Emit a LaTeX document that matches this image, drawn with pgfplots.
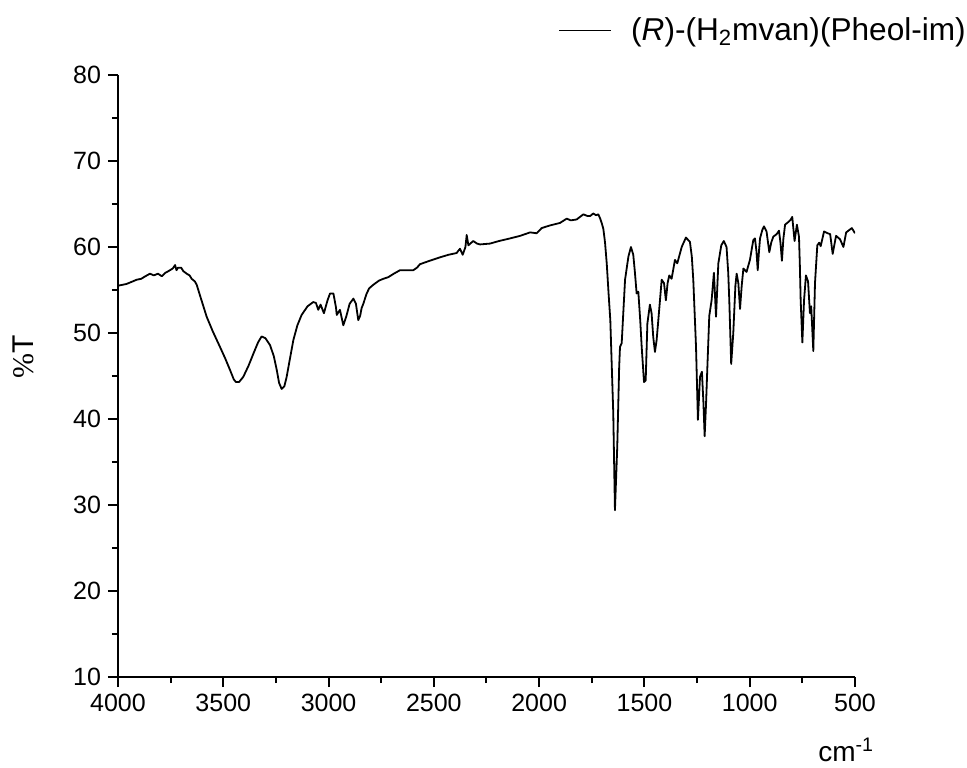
\documentclass[border=0pt]{standalone}
\usepackage{fontspec}
\setmainfont{Liberation Sans}
\newfontfamily\seriffont{Liberation Serif}
\usepackage{pgfplots}
\pgfplotsset{compat=1.18}
\pgfplotstableread{
x y
4000 55.5
3960 55.7
3930 56.0
3911 56.2
3890 56.3
3870 56.6
3848 56.9
3830 56.7
3810 56.9
3792 56.6
3775 57.0
3760 57.2
3740 57.5
3729 57.9
3722 57.3
3715 57.6
3700 57.6
3690 57.2
3674 56.9
3660 56.7
3650 56.3
3635 56.0
3626 55.6
3611 54.4
3579 51.9
3550 50.2
3516 48.4
3490 47.0
3468 45.7
3450 44.6
3440 44.3
3425 44.3
3405 44.9
3380 46.2
3357 47.6
3335 48.9
3318 49.6
3300 49.4
3278 48.6
3260 47.3
3246 45.7
3235 44.2
3223 43.5
3210 43.8
3199 44.9
3185 46.8
3167 49.2
3148 50.9
3128 52.1
3100 53.1
3073 53.6
3060 53.5
3049 52.7
3038 53.3
3022 52.3
3005 53.8
2993 54.6
2977 54.6
2965 53.0
2961 52.1
2946 52.7
2930 50.9
2915 52.0
2900 53.4
2882 54.0
2870 53.4
2859 51.5
2850 52.0
2843 52.9
2835 53.4
2819 54.6
2807 55.2
2788 55.6
2760 56.1
2740 56.3
2716 56.5
2690 56.9
2661 57.3
2630 57.3
2598 57.3
2580 57.6
2566 58.0
2520 58.4
2471 58.8
2430 59.1
2392 59.3
2376 59.8
2363 59.1
2350 60.0
2344 61.4
2336 60.2
2313 60.7
2295 60.4
2281 60.3
2233 60.4
2190 60.7
2138 61.0
2090 61.3
2043 61.7
2012 61.6
1988 62.2
1950 62.5
1901 62.8
1869 63.3
1850 63.1
1822 63.2
1790 63.8
1770 63.6
1758 63.6
1743 63.9
1730 63.7
1719 63.8
1710 63.3
1703 62.8
1695 62.1
1687 60.5
1679 58.1
1670 54.5
1662 51.5
1648 40.7
1640 29.4
1629 36.8
1620 46.0
1616 48.4
1608 48.8
1600 52.5
1592 56.2
1576 58.9
1564 60.0
1553 59.1
1545 57.0
1537 54.6
1529 54.8
1520 51.5
1513 48.4
1502 44.3
1494 44.5
1486 51.1
1474 53.3
1466 52.3
1458 49.5
1450 47.8
1442 49.2
1434 51.5
1418 56.2
1407 55.8
1398 53.8
1390 55.8
1382 56.7
1371 56.3
1355 58.5
1344 58.1
1323 60.0
1303 61.1
1284 60.6
1275 58.9
1268 56.2
1255 48.4
1246 39.9
1236 44.9
1227 45.5
1220 42.0
1214 38.0
1207 42.0
1201 46.1
1192 52.0
1181 53.8
1170 57.0
1160 51.9
1149 58.1
1135 60.2
1123 60.7
1110 60.0
1102 57.0
1097 53.8
1088 46.4
1078 50.0
1068 55.5
1062 56.9
1054 55.8
1046 52.8
1038 55.5
1030 57.5
1015 57.1
999 58.5
990 59.8
983 60.8
975 61.0
968 59.5
962 57.3
956 59.5
951 61.0
940 62.0
932 62.4
920 61.8
907 59.4
898 60.5
888 61.2
872 61.5
861 61.9
854 60.5
847 58.4
840 61.0
832 62.6
817 62.9
805 63.2
798 63.5
787 60.7
776 62.6
766 61.2
762 58.0
758 53.8
750 48.9
742 53.8
733 56.7
723 56.0
714 52.3
708 53.1
698 47.9
690 55.8
679 60.2
670 60.5
663 60.1
647 61.8
630 61.6
618 61.5
606 59.2
590 61.3
571 60.9
555 60.0
542 61.7
515 62.2
500 61.6
}\spectrum
\begin{document}
\begin{tikzpicture}
\path[use as bounding box] (-59pt,-45pt) rectangle (424.5pt,338.5pt);
\begin{axis}[
  at={(0,0)}, anchor=south west,
  scale only axis, width=368.5pt, height=301pt,
  x dir=reverse, xmin=500, xmax=4000, ymin=10, ymax=80,
  axis x line*=bottom, axis y line*=left,
  x axis line style={-}, y axis line style={-},
  axis line style={line width=1pt},
  xtick={500,1000,...,4000}, ytick={10,20,...,80},
  minor x tick num=1, minor y tick num=1,
  tick align=outside,
  major tick length=5pt, minor tick length=3pt,
  tick style={line width=1pt, black},
  ticklabel style={font=\fontsize{12.5}{14}\selectfont},
  /pgf/number format/assume math mode=true,
  /pgf/number format/1000 sep={},
  xlabel={cm\textsuperscript{-1}},
  xlabel style={at={(rel axis cs:0.988,-0.141)}, anchor=base, font=\fontsize{14}{16}\selectfont},
  ylabel={{\seriffont\%}T},
  ylabel style={at={(rel axis cs:-0.129,0.532)}, anchor=center, font=\fontsize{15}{17}\selectfont},
  legend style={draw=none, fill=none, at={(rel axis cs:0.597,1.074)}, anchor=west,
    inner xsep=0pt, inner ysep=0pt, font=\fontsize{15.8}{18}\selectfont,
    /tikz/every odd column/.append style={column sep=7.5pt}},
  legend image code/.code={\draw[#1] (0pt,0pt) -- (26pt,0pt);},
]
\addplot[black, line width=0.9pt, line join=round] table[x=x,y=y] {\spectrum};
\addlegendentry{(\textit{R})-(H\textsubscript{2}mvan)(Pheol-im)}
\end{axis}
\end{tikzpicture}
\end{document}
